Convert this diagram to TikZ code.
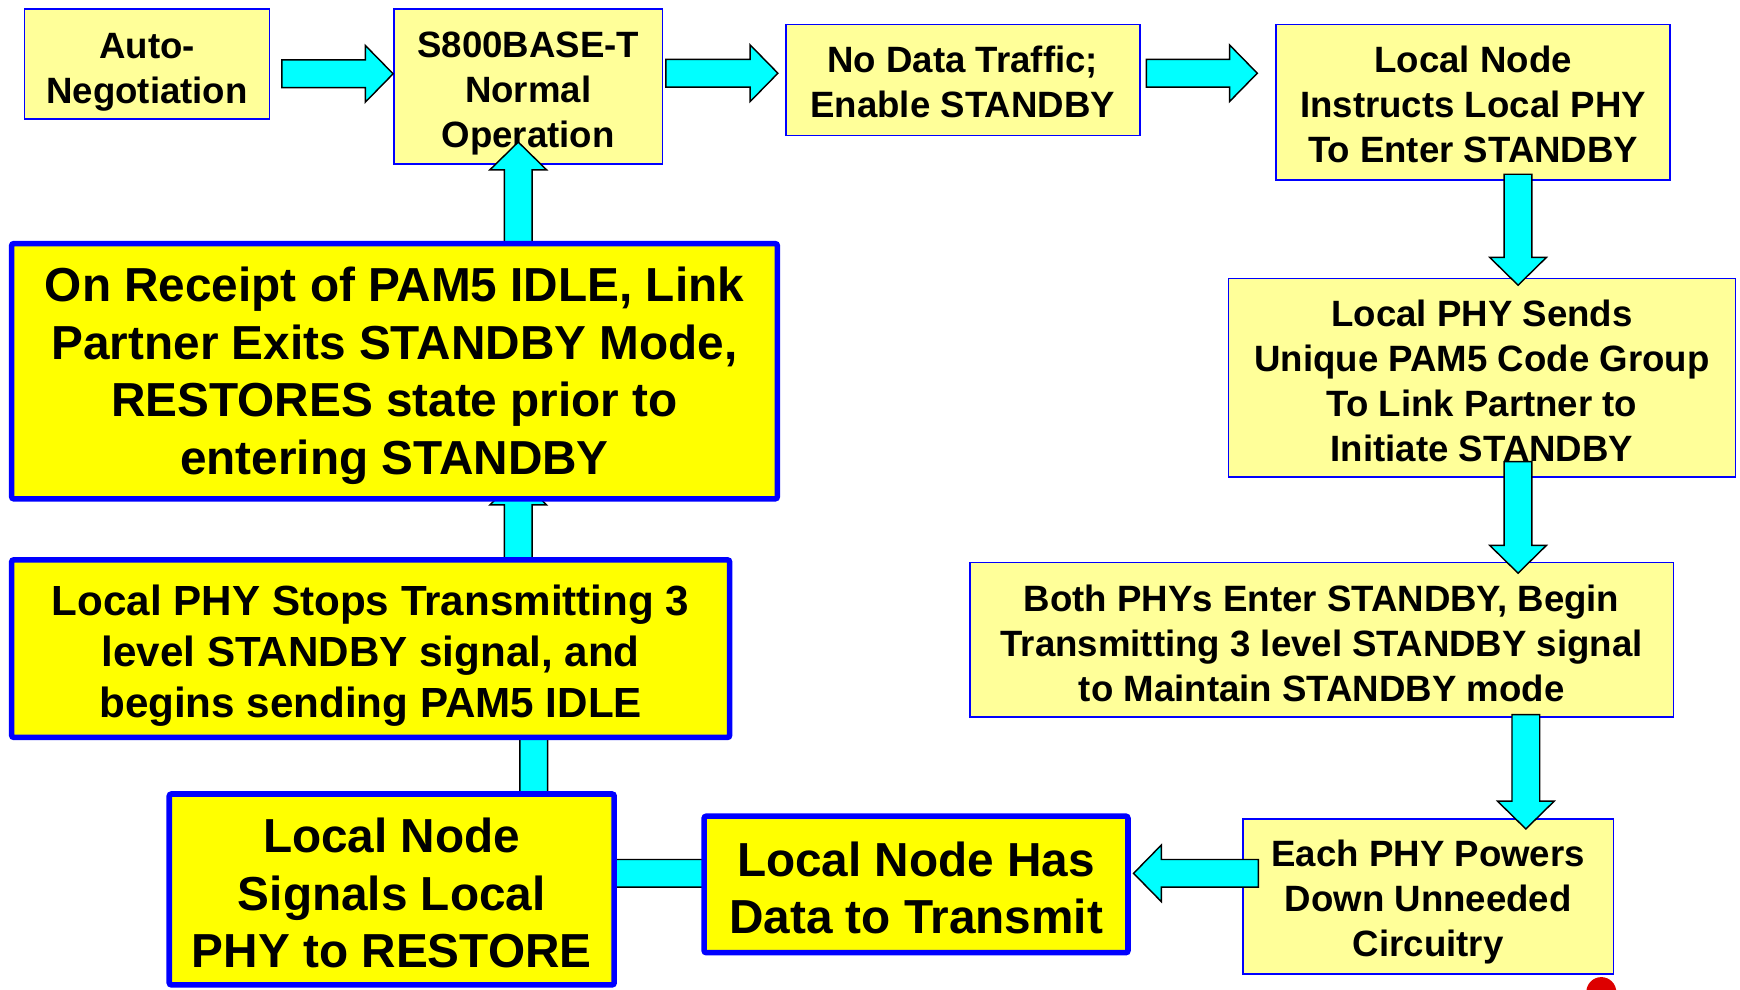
\documentclass[tikz,border=0pt]{standalone}
\usepackage{fontspec}
\setmainfont{Liberation Sans}
\usetikzlibrary{calc}
\definecolor{lyel}{HTML}{FFFF99}
\definecolor{byel}{HTML}{FFFF00}
\definecolor{bblue}{HTML}{0000FF}
\definecolor{acyan}{HTML}{00FFFF}
\definecolor{rdot}{RGB}{221,0,0}
\newcommand\tdn[1]{\rule{0pt}{#1}}
\tikzset{
  thinbox/.style={draw=bblue, line width=1.5pt, fill=lyel, inner sep=0pt, align=center,
    font=\fontsize{33}{40.5}\selectfont\bfseries},
  thickbox/.style={draw=bblue, line width=5pt, fill=byel, rounded corners=2pt, inner sep=0pt, align=center},
  bigtext/.style={font=\fontsize{43}{52}\selectfont\bfseries},
  midtext/.style={font=\fontsize{38}{46}\selectfont\bfseries},
  barrow/.style={draw=black, fill=acyan, line width=1.3pt, line join=miter},
}
\newcommand\blockarrow[2]{%
  \draw[barrow] let \p1=(#1), \p2=(#2),
     \n1={atan2(\y2-\y1,\x2-\x1)} in
    ($(\p1)+({\n1+90}:12.5pt)$) --
    ($(\p2)+({\n1+180}:25pt)+({\n1+90}:12.5pt)$) --
    ($(\p2)+({\n1+180}:25pt)+({\n1+90}:25.5pt)$) --
    (\p2) --
    ($(\p2)+({\n1+180}:25pt)+({\n1-90}:25.5pt)$) --
    ($(\p2)+({\n1+180}:25pt)+({\n1-90}:12.5pt)$) --
    ($(\p1)+({\n1-90}:12.5pt)$) -- cycle;}
\begin{document}
\begin{tikzpicture}[x=1pt,y=-1pt]
\useasboundingbox (0,0) rectangle (1568,892);

% thin boxes
\node[thinbox, minimum width=221, minimum height=99] (auto) at (132.5,57.5) {\tdn{38pt}Auto-\\Negotiation};
\node[thinbox, minimum width=242, minimum height=140] (s800) at (476,78) {\tdn{35pt}S800BASE-T\\Normal\\Operation};
\node[thinbox, minimum width=319, minimum height=100] (nodata) at (867.5,72) {\tdn{28pt}No Data Traffic;\\Enable STANDBY};
\node[thinbox, minimum width=355, minimum height=140] (instr) at (1327.5,92) {\tdn{28pt}Local Node\\Instructs Local PHY\\To Enter STANDBY};
\node[thinbox, minimum width=457, minimum height=179] (sends) at (1335.5,340.5) {\tdn{29pt}Local PHY Sends\\Unique PAM5 Code Group\\To Link Partner to\\Initiate STANDBY};
\node[thinbox, minimum width=634, minimum height=139] (both) at (1191,576.5) {\tdn{30pt}Both PHYs Enter STANDBY, Begin\\Transmitting 3 level STANDBY signal\\to Maintain STANDBY mode};
\node[thinbox, minimum width=334, minimum height=140] (each) at (1287,808) {\tdn{34pt}Each PHY Powers\\Down Unneeded\\Circuitry};

% arrow end points
\coordinate (a1s) at (254,66.5);   \coordinate (a1e) at (s800.west |- a1s);
\coordinate (a2s) at (600,66);     \coordinate (a2e) at (701,66);
\coordinate (a3s) at (1033,66);    \coordinate (a3e) at (1133,66);
\coordinate (a4s) at (1368,157);   \coordinate (a4e) at (1368,257);
\coordinate (a5s) at (1368,416);   \coordinate (a5e) at (1368,516.5);
\coordinate (a6s) at (1375,644);   \coordinate (a6e) at (1375,747);
\coordinate (a7s) at (1134,787);   \coordinate (a7e) at (1021.5,787);
\coordinate (a8s) at (640,787);    \coordinate (a8e) at (520,787);
\coordinate (a9s) at (481,740);    \coordinate (a9e) at (481,635);
\coordinate (a10s) at (467,520);   \coordinate (a10e) at (467,430);
\coordinate (a11s) at (467,240);   \coordinate (a11e) at (467,128);

\blockarrow{a1s}{a1e}
\blockarrow{a2s}{a2e}
\blockarrow{a3s}{a3e}
\blockarrow{a4s}{a4e}
\blockarrow{a5s}{a5e}
\blockarrow{a6s}{a6e}
\blockarrow{a7s}{a7e}
\blockarrow{a8s}{a8e}
\blockarrow{a9s}{a9e}
\blockarrow{a10s}{a10e}
\blockarrow{a11s}{a11e}

% thick boxes
\node[thickbox, bigtext, minimum width=690, minimum height=230] (receipt) at (355.5,334.5)
  {\tdn{39.5pt}On Receipt of PAM5 IDLE, Link\\Partner Exits STANDBY Mode,\\RESTORES state prior to\\entering STANDBY};
\node[thickbox, midtext, minimum width=647, minimum height=160] (stops) at (334,584.5)
  {\tdn{40pt}Local PHY Stops Transmitting 3\\level STANDBY signal, and\\begins sending PAM5 IDLE};
\node[thickbox, bigtext, minimum width=401, minimum height=172] (signals) at (353,801.5)
  {\tdn{37.5pt}Local Node\\Signals Local\\PHY to RESTORE};
\node[thickbox, bigtext, minimum width=382, minimum height=123] (hasdata) at (825.5,797)
  {\tdn{37.5pt}Local Node Has\\Data to Transmit};

% red dot at the lower edge
\begin{scope}
  \clip (0,0) rectangle (1568,892);
  \fill[rdot] (1443,894) circle[radius=13.5];
\end{scope}
\end{tikzpicture}
\end{document}
